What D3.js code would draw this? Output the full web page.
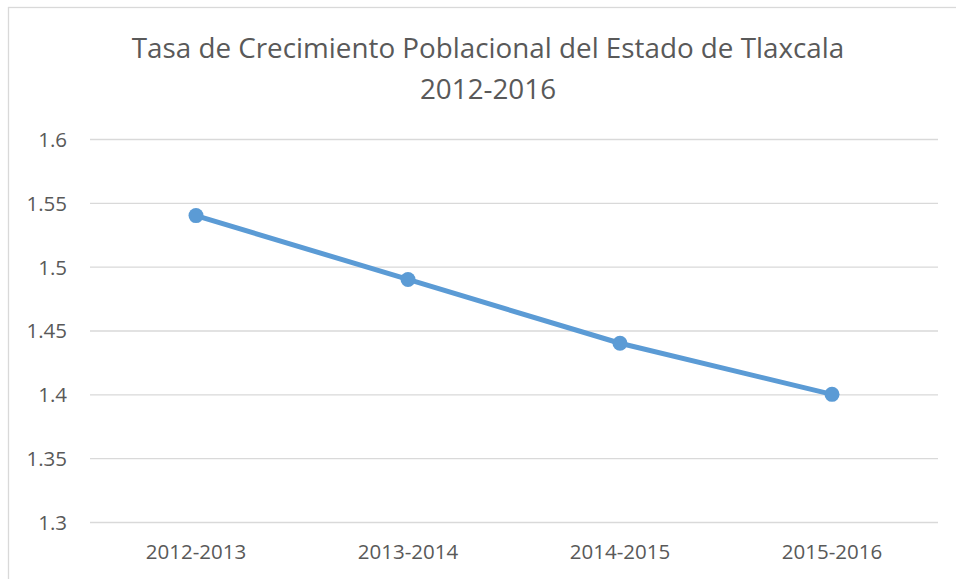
<!DOCTYPE html>
<html>
<head>
<meta charset="utf-8">
<script src="https://cdn.jsdelivr.net/npm/d3@7"></script>
<style>
  body { margin: 0; background: #fff; }
  svg { display: block; }
  svg text { font-family: "Open Sans", sans-serif; }
</style>
</head>
<body>
<div id="chart"></div>
<script>
var categories = ["2012-2013", "2013-2014", "2014-2015", "2015-2016"];
var tasa = [1.54, 1.49, 1.44, 1.40];
var yTicks = [1.3, 1.35, 1.4, 1.45, 1.5, 1.55, 1.6];
var titleLines = ["Tasa de Crecimiento Poblacional del Estado de Tlaxcala", "2012-2016"];

var width = 956,
    height = 579;
var padding = [139, 18, 57, 90]; // top, right, bottom, left

var colours = {
    line: "#5B9BD5",
    grid: "#D9D9D9",
    text: "#595959",
    border: "#D9D9D9"
};

var svg = d3.select("#chart")
    .append("svg")
    .attr("width", width)
    .attr("height", height);

// chart frame (runs off the right and bottom edge)
svg.append("rect")
    .attr("x", 8.5)
    .attr("y", 7.5)
    .attr("width", 1000)
    .attr("height", 700)
    .attr("fill", "#fff")
    .attr("stroke", colours.border)
    .attr("stroke-width", 1.3);

var xScale = d3.scaleBand()
    .domain(categories)
    .range([padding[3], width - padding[1]]);

var yScale = d3.scaleLinear()
    .domain([1.3, 1.6])
    .range([height - padding[2], padding[0]]);

// gridlines
var yAxis = d3.axisLeft(yScale)
    .tickValues(yTicks)
    .tickFormat(d3.format("~g"))
    .tickSizeInner(-(width - padding[1] - padding[3]))
    .tickSizeOuter(0)
    .tickPadding(23);

var gY = svg.append("g")
    .attr("transform", "translate(" + padding[3] + ",0)")
    .call(yAxis);

gY.select(".domain").remove();
gY.selectAll(".tick line")
    .attr("stroke", colours.grid)
    .attr("stroke-width", 1.3);
gY.selectAll(".tick text")
    .attr("fill", colours.text)
    .style("font-size", "20.5px")
    .attr("dy", "0.36em");

var xAxis = d3.axisBottom(xScale)
    .tickSize(0)
    .tickPadding(0);

var gX = svg.append("g")
    .attr("transform", "translate(0," + (height - padding[2]) + ")")
    .call(xAxis);

gX.select(".domain").remove();
gX.selectAll(".tick text")
    .attr("fill", colours.text)
    .attr("y", 37)
    .attr("dy", 0)
    .style("font-size", "20.5px");

// line
var line = d3.line()
    .x(function(d, i) { return xScale(categories[i]) + xScale.bandwidth() / 2; })
    .y(function(d) { return yScale(d); });

svg.append("path")
    .datum(tasa)
    .attr("d", line)
    .attr("fill", "none")
    .attr("stroke", colours.line)
    .attr("stroke-width", 5)
    .attr("stroke-linecap", "round")
    .attr("stroke-linejoin", "round");

svg.append("g")
    .selectAll("circle")
    .data(tasa)
    .enter()
    .append("circle")
    .attr("cx", function(d, i) { return xScale(categories[i]) + xScale.bandwidth() / 2; })
    .attr("cy", function(d) { return yScale(d); })
    .attr("r", 7.5)
    .attr("fill", colours.line);

// title
svg.append("g")
    .selectAll("text")
    .data(titleLines)
    .enter()
    .append("text")
    .attr("x", 488)
    .attr("y", function(d, i) { return 58 + i * 41; })
    .attr("text-anchor", "middle")
    .attr("fill", colours.text)
    .style("font-size", "27.8px")
    .text(function(d) { return d; });
</script>
</body>
</html>
